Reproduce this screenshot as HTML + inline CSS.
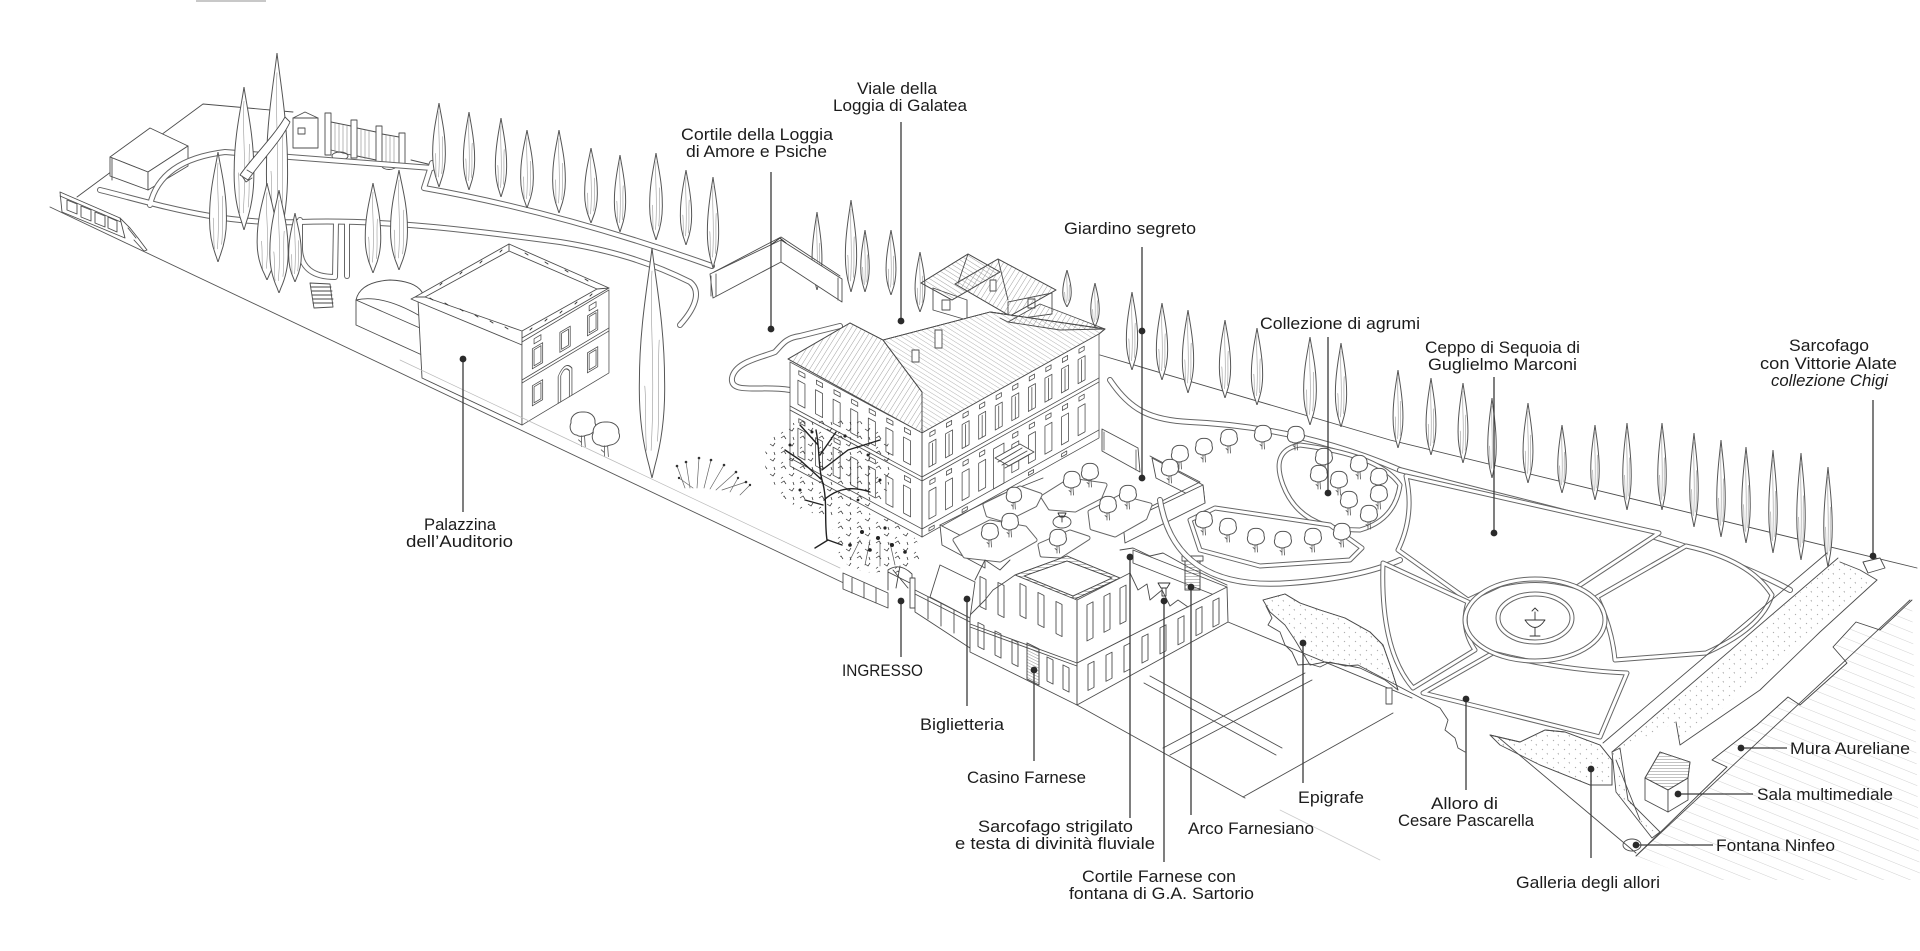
<!DOCTYPE html>
<html><head><meta charset="utf-8">
<style>
html,body{margin:0;padding:0;background:#fff;width:1920px;height:951px;overflow:hidden}
svg{display:block}
.t{font-family:"Liberation Sans Narrow","Liberation Sans",sans-serif;font-size:17px;fill:#1c1c1c}
</style></head><body>
<svg width="1920" height="951" viewBox="0 0 1920 951" xmlns="http://www.w3.org/2000/svg">
<defs>
<symbol id="cy" viewBox="0 0 20 100" preserveAspectRatio="none">
<path d="M10,0 C12,14 17,34 17,58 C17.5,76 14,88 11.5,95 L10,100 L8.5,95 C6,88 2.5,76 3,58 C3,34 8,14 10,0Z" fill="#fff" stroke="#555" stroke-width="1" vector-effect="non-scaling-stroke"/>
<path d="M10,10 C8.5,30 12,52 9.5,88 M6,60 C7,70 6,80 7,88 M14,40 C13,55 14.5,70 13,84" fill="none" stroke="#999" stroke-width="0.6" vector-effect="non-scaling-stroke"/>
</symbol>
<symbol id="tr" viewBox="0 0 20 28" preserveAspectRatio="none">
<path d="M10,1.5 C15,1 18.5,5 18,9.5 C19.5,13 17,18 12.5,18.5 C10,20 7,19.5 6,18.5 C2,18 0.5,13 2,9.5 C1.5,5 5,1 10,1.5Z" fill="#fff" stroke="#555" stroke-width="1" vector-effect="non-scaling-stroke"/>
<path d="M9,19 L9,27 M11,19 L11.5,27 M9,24 L7,22" fill="none" stroke="#555" stroke-width="0.8" vector-effect="non-scaling-stroke"/>
</symbol>
<pattern id="hA" width="4" height="4" patternUnits="userSpaceOnUse" patternTransform="rotate(-58)"><line x1="0" y1="0" x2="0" y2="4" stroke="#777" stroke-width="0.7"/></pattern>
<pattern id="hB" width="4.5" height="4.5" patternUnits="userSpaceOnUse" patternTransform="rotate(32)"><line x1="0" y1="0" x2="0" y2="4.5" stroke="#777" stroke-width="0.7"/></pattern>
<pattern id="hC" width="3" height="3" patternUnits="userSpaceOnUse" patternTransform="rotate(90)"><line x1="0" y1="0" x2="0" y2="3" stroke="#666" stroke-width="0.8"/></pattern>
<pattern id="hM" width="10" height="10" patternUnits="userSpaceOnUse" patternTransform="rotate(22)"><line x1="0" y1="0" x2="10" y2="0" stroke="#bdbdbd" stroke-width="0.7"/></pattern>
<pattern id="fol" width="19" height="15" patternUnits="userSpaceOnUse"><path d="M2,3 l3,-2 l2,3 M10,9 l3,2 l2,-3 M4,12 l-2,1.5 M14,2 l1,3" stroke="#333" stroke-width="0.75" fill="none"/></pattern>
<pattern id="dots" width="11" height="9" patternUnits="userSpaceOnUse"><path d="M2,2 l1,1 M7,6 l0.5,1.5" stroke="#999" stroke-width="0.8" fill="none"/></pattern>
</defs>
<rect width="1920" height="951" fill="#fff"/>
<line x1="196" y1="1" x2="266" y2="1" stroke="#c8c8c8" stroke-width="2"/>

<g fill="none" stroke="#4d4d4d" stroke-width="0.9" stroke-linejoin="round" stroke-linecap="round">

<!-- ===== TOP LEFT PLOT ===== -->
<polyline points="77,197 203,104 293,112"/>
<line x1="411" y1="160" x2="432" y2="165"/>
<polygon points="110,157 150,128 188,146 148,172" fill="#fff"/>
<polygon points="110,157 148,172 148,190 110,176" fill="#fff"/>
<polygon points="148,172 188,146 188,166 148,190" fill="#fff"/>
<line x1="112" y1="158" x2="112" y2="180"/>
<polygon points="60,192 120,218 125,238 62,212" fill="#fff"/>
<line x1="60" y1="196" x2="121" y2="222"/>
<polygon points="67,200 77,204 77,214 67,210"/>
<polygon points="81,206 91,210 91,221 81,217"/>
<polygon points="95,212 105,216 105,227 95,223"/>
<polygon points="108,217 117,221 117,232 108,228"/>
<polyline points="120,218 130,228 138,238 147,250 144,251 134,240"/>
<line x1="128" y1="228" x2="136" y2="238"/>
<polygon points="293,118 305,112 318,118 318,148 293,148" fill="#fff"/>
<line x1="293" y1="118" x2="318" y2="118"/>
<rect x="298" y="128" width="7" height="6"/>
<rect x="325" y="113" width="6" height="42" fill="#fff"/>
<rect x="351" y="120" width="6" height="38" fill="#fff"/>
<rect x="376" y="126" width="6" height="38" fill="#fff"/>
<rect x="399" y="133" width="6" height="34" fill="#fff"/>
<path d="M331,122 L351,126 M331,150 L351,155 M357,128 L376,132 M357,156 L376,160 M382,134 L399,137 M382,162 L399,165"/>
<path d="M335,123 v29 M339,124 v29 M343,125 v29 M347,126 v29 M361,129 v29 M365,130 v29 M369,130 v29 M386,135 v28 M390,136 v28 M394,136 v28" stroke="#888" stroke-width="0.6"/>
<ellipse cx="340" cy="156" rx="8" ry="4"/>
<ellipse cx="389" cy="166" rx="7" ry="3.5"/>
<g>
<path d="M100,190 C160,205 220,225 300,222 C380,219 470,230 560,242 C610,250 650,262 690,282 C700,290 698,305 680,325" stroke="#666" stroke-width="6"/>
<path d="M150,205 Q160,160 225,152 L432,168" stroke="#666" stroke-width="6"/>
<path d="M300,220 L300,250 Q302,277 335,277 L336,222" stroke="#666" stroke-width="6"/>
<path d="M347,222 L347,276" stroke="#666" stroke-width="6"/>
<path d="M432,163 L424,188 Q560,212 712,266" stroke="#666" stroke-width="6"/>
<path d="M100,190 C160,205 220,225 300,222 C380,219 470,230 560,242 C610,250 650,262 690,282 C700,290 698,305 680,325" stroke="#fff" stroke-width="4"/>
<path d="M150,205 Q160,160 225,152 L432,168" stroke="#fff" stroke-width="4"/>
<path d="M300,220 L300,250 Q302,277 335,277 L336,222" stroke="#fff" stroke-width="4"/>
<path d="M347,222 L347,276" stroke="#fff" stroke-width="4"/>
<path d="M432,163 L424,188 Q560,212 712,266" stroke="#fff" stroke-width="4"/>
</g>
<polygon points="310,283 330,284 333,307 314,308" fill="#fff"/>
<path d="M311,287 h20 M312,291 h20 M312,295 h20 M313,299 h20 M313,303 h20" stroke="#444"/>

<!-- ===== CYPRESSES ===== -->
<use href="#cy" x="262" y="53" width="30" height="197"/>
<use href="#cy" x="230" y="87" width="28" height="143"/>
<path d="M285,117 C275,135 250,160 240,175 L248,180 C262,160 282,140 290,122Z" fill="#fff"/>
<path d="M242,176 l4,6 l6,-4 M247,170 l5,3" stroke="#555"/>
<use href="#cy" x="206" y="152" width="24" height="110"/>
<use href="#cy" x="253" y="183" width="28" height="97"/>
<use href="#cy" x="266" y="190" width="26" height="103"/>
<use href="#cy" x="286" y="213" width="18" height="69"/>
<use href="#cy" x="362" y="183" width="22" height="90"/>
<use href="#cy" x="387" y="170" width="24" height="100"/>
<use href="#cy" x="430" y="103" width="18" height="84"/>
<use href="#cy" x="461" y="112" width="16" height="78"/>
<use href="#cy" x="493" y="118" width="16" height="79"/>
<use href="#cy" x="518" y="130" width="18" height="78"/>
<use href="#cy" x="550" y="130" width="18" height="83"/>
<use href="#cy" x="582" y="148" width="18" height="75"/>
<use href="#cy" x="612" y="155" width="16" height="77"/>
<use href="#cy" x="647" y="153" width="18" height="87"/>
<use href="#cy" x="678" y="170" width="16" height="75"/>
<use href="#cy" x="705" y="177" width="16" height="91"/>
<use href="#cy" x="810" y="212" width="14" height="78"/>
<use href="#cy" x="843" y="200" width="16" height="92"/>
<use href="#cy" x="859" y="230" width="12" height="62"/>
<use href="#cy" x="884" y="230" width="14" height="65"/>
<use href="#cy" x="913" y="252" width="14" height="60"/>
<use href="#cy" x="1061" y="270" width="12" height="37"/>
<use href="#cy" x="1089" y="283" width="12" height="44"/>

<!-- ===== CORTILE LOGGIA WALL ===== -->
<polygon points="710,274 781,240 781,262 713,298" fill="#fff"/>
<polygon points="781,240 842,279 842,302 781,262" fill="#fff"/>
<polyline points="714,272 781,237 840,276"/>
<path d="M711,276 v20 M716,274 v22 M838,278 v22" stroke="#555"/>
<path d="M772,244 l8,-6 l6,5" stroke="#333"/>

<!-- ===== PALAZZINA ===== -->
<path d="M356,325 L356,300 Q360,282 390,280 Q415,281 422,292 L422,355 L356,325Z" fill="#fff"/>
<path d="M356,300 Q382,294 420,316 M356,300 L420,328"/>
<polygon points="418,300 522,342 522,425 422,378" fill="#fff"/>
<polygon points="415,297 509,244 609,288 522,338 522,345 411,299" fill="#fff"/>
<polygon points="425,297 509,251 597,289 522,331" fill="#fff"/>
<path d="M415,297 L425,297 M509,244 L509,251 M609,288 L597,289 M522,338 L522,331" />
<path d="M430,298 l3,2 M445,303 l3,2 M460,309 l3,2 M475,315 l3,2 M490,321 l3,2 M505,327 l3,2 M530,330 l2,-2 M545,321 l2,-2 M560,313 l2,-2 M575,304 l2,-2 M590,296 l2,-2 M440,285 l2,-2 M460,274 l2,-2 M480,263 l2,-2 M500,252 l2,-2 M525,253 l3,2 M545,262 l3,2 M565,270 l3,2 M585,279 l3,2" stroke="#333"/>
<g transform="matrix(0.861,-0.515,0,1,522,342)">
<rect x="0" y="0" width="101" height="83" fill="#fff"/>
<line x1="0" y1="38" x2="101" y2="38"/><line x1="0" y1="41" x2="101" y2="41"/>
<rect x="12" y="13" width="12" height="20"/><rect x="14" y="15" width="8" height="16"/>
<rect x="44" y="13" width="12" height="20"/><rect x="46" y="15" width="8" height="16"/>
<rect x="76" y="13" width="12" height="20"/><rect x="78" y="15" width="8" height="16"/>
<rect x="14" y="4" width="8" height="5"/><rect x="78" y="4" width="8" height="5"/>
<rect x="12" y="50" width="12" height="20"/><rect x="14" y="52" width="8" height="16"/>
<path d="M42,83 L42,56 Q50,44 58,56 L58,83 M45,83 L45,57 Q50,49 55,57 L55,83"/>
<rect x="76" y="50" width="12" height="20"/><rect x="78" y="52" width="8" height="16"/>
</g>
<use href="#tr" x="568" y="410" width="30" height="38"/>
<use href="#tr" x="590" y="420" width="32" height="38"/>
<use href="#cy" x="634" y="248" width="36" height="230"/>

<!-- ===== VILLA PATHS ===== -->
<g>
<path d="M790,390 C760,385 730,395 732,378 C735,362 760,358 775,352 C782,345 785,338 800,336 L840,326" stroke="#666" stroke-width="6"/>
<path d="M790,390 C760,385 730,395 732,378 C735,362 760,358 775,352 C782,345 785,338 800,336 L840,326" stroke="#fff" stroke-width="4"/>
<path d="M1110,380 C1130,410 1150,420 1190,422 C1260,425 1330,440 1400,470" stroke="#666" stroke-width="6"/>
<path d="M1110,380 C1130,410 1150,420 1190,422 C1260,425 1330,440 1400,470" stroke="#fff" stroke-width="4"/>
</g>

<!-- ===== VILLA ===== -->
<polygon points="933,288 967,300 967,320 933,310" fill="#fff"/>
<polygon points="1008,302 1052,293 1052,314 1008,320" fill="#fff"/>
<polygon points="921,283 968,254 1000,272 952,300" fill="url(#hA)"/>
<polygon points="921,283 968,254 1000,272 952,300"/>
<polygon points="955,284 998,259 1056,290 1010,316" fill="url(#hB)"/>
<polygon points="955,284 998,259 1056,290 1010,316"/>
<line x1="968" y1="254" x2="958" y2="283"/><line x1="998" y1="259" x2="1008" y2="300"/>
<rect x="942" y="300" width="8" height="10"/><rect x="1028" y="299" width="7" height="9"/>
<rect x="990" y="280" width="6" height="11" fill="#fff"/>
<polygon points="788,359 850,323 883,340 922,392 922,433" fill="#fff"/>
<polygon points="788,359 850,323 883,340 922,392 922,433" fill="url(#hB)"/>
<polygon points="922,433 1099,334 1105,329 990,312 883,340 922,392" fill="#fff"/>
<polygon points="922,433 1099,334 1105,329 990,312 883,340 922,392" fill="url(#hA)" fill-opacity="0.8"/>
<polygon points="1008,322 1040,304 1105,329 1060,330" fill="url(#hB)"/>
<path d="M883,340 L990,312 L1105,329 M922,392 L922,433 M850,323 L883,340 M1000,318 L1008,322"/>
<rect x="935" y="330" width="7" height="18" fill="#fff"/>
<rect x="912" y="350" width="7" height="12" fill="#fff"/>
<g transform="matrix(0.872,-0.488,0,1,922,433)">
<rect x="0" y="0" width="203" height="104" fill="#fff"/>
<line x1="0" y1="44" x2="203" y2="44"/><line x1="0" y1="48" x2="203" y2="48"/><line x1="0" y1="96" x2="203" y2="96"/>
<rect x="9" y="4" width="6" height="4"/><rect x="28" y="4" width="6" height="4"/><rect x="47" y="4" width="6" height="4"/><rect x="66" y="4" width="6" height="4"/><rect x="85" y="4" width="6" height="4"/><rect x="104" y="4" width="6" height="4"/><rect x="123" y="4" width="6" height="4"/><rect x="142" y="4" width="6" height="4"/><rect x="161" y="4" width="6" height="4"/><rect x="180" y="4" width="6" height="4"/>
<rect x="8" y="14" width="8" height="24"/><rect x="27" y="14" width="8" height="24"/><rect x="46" y="14" width="8" height="24"/><rect x="65" y="14" width="8" height="24"/><rect x="84" y="14" width="8" height="24"/><rect x="103" y="14" width="8" height="24"/><rect x="122" y="14" width="8" height="24"/><rect x="141" y="14" width="8" height="24"/><rect x="160" y="14" width="8" height="24"/><rect x="179" y="14" width="8" height="24"/>
<path d="M12,16 v22 M31,16 v22 M50,16 v22 M69,16 v22 M88,16 v22 M107,16 v22 M126,16 v22 M145,16 v22 M164,16 v22 M183,16 v22"/>
<rect x="9" y="52" width="6" height="4"/><rect x="28" y="52" width="6" height="4"/><rect x="47" y="52" width="6" height="4"/><rect x="66" y="52" width="6" height="4"/><rect x="104" y="52" width="6" height="4"/><rect x="123" y="52" width="6" height="4"/><rect x="142" y="52" width="6" height="4"/><rect x="161" y="52" width="6" height="4"/><rect x="180" y="52" width="6" height="4"/>
<rect x="8" y="62" width="8" height="28"/><rect x="27" y="62" width="8" height="28"/><rect x="46" y="62" width="8" height="28"/><rect x="65" y="62" width="8" height="28"/><rect x="103" y="62" width="8" height="28"/><rect x="122" y="62" width="8" height="28"/><rect x="141" y="62" width="8" height="28"/><rect x="160" y="62" width="8" height="28"/><rect x="179" y="62" width="8" height="28"/>
<rect x="82" y="56" width="12" height="40"/>
<rect x="8" y="99" width="6" height="3"/><rect x="46" y="99" width="6" height="3"/><rect x="122" y="99" width="6" height="3"/><rect x="160" y="99" width="6" height="3"/>
</g>
<polygon points="995,458 1020,444 1034,452 1009,466" fill="#fff"/>
<path d="M998,462 l24,-14 M1002,465 l25,-14 M1005,468 l25,-14"/>
<g transform="matrix(0.88,0.473,0,1,790,362)">
<rect x="0" y="0" width="150" height="104" fill="#fff"/>
<line x1="0" y1="44" x2="150" y2="44"/><line x1="0" y1="48" x2="150" y2="48"/><line x1="0" y1="96" x2="150" y2="96"/>
<rect x="10" y="4" width="7" height="4"/><rect x="30" y="4" width="7" height="4"/><rect x="50" y="4" width="7" height="4"/><rect x="70" y="4" width="7" height="4"/><rect x="90" y="4" width="7" height="4"/><rect x="110" y="4" width="7" height="4"/><rect x="130" y="4" width="7" height="4"/>
<rect x="9" y="14" width="8" height="24"/><rect x="29" y="14" width="8" height="24"/><rect x="49" y="14" width="8" height="24"/><rect x="69" y="14" width="8" height="24"/><rect x="89" y="14" width="8" height="24"/><rect x="109" y="14" width="8" height="24"/><rect x="129" y="14" width="8" height="24"/>
<rect x="10" y="52" width="7" height="4"/><rect x="50" y="52" width="7" height="4"/><rect x="90" y="52" width="7" height="4"/><rect x="130" y="52" width="7" height="4"/>
<rect x="9" y="62" width="8" height="28"/><rect x="29" y="62" width="8" height="28"/><rect x="49" y="62" width="8" height="28"/><rect x="69" y="62" width="8" height="28"/><rect x="89" y="62" width="8" height="28"/><rect x="109" y="62" width="8" height="28"/><rect x="129" y="62" width="8" height="28"/>
</g>
<line x1="922" y1="433" x2="922" y2="537"/>

<!-- ===== GIARDINO SEGRETO / COURTS ===== -->
<polygon points="1102,429 1138,448 1140,472 1102,451" fill="#fff"/>
<path d="M1104,432 l0,18 M1136,450 l0,20" stroke="#666"/>
<polygon points="940,525 985,548 985,568 942,545" fill="#fff"/>
<polyline points="940,525 1000,495 1043,478"/>
<polygon points="1152,458 1203,485 1205,503 1156,478" fill="#fff"/>
<polygon points="1203,485 1123,523 1125,543 1205,503" fill="#fff"/>
<polyline points="1150,456 1200,482 1122,521"/>
<g>
<path d="M1043,497 L1070,480 L1105,485 L1100,497 L1075,510 L1050,508Z" stroke="#666" stroke-width="5"/>
<path d="M1043,497 L1070,480 L1105,485 L1100,497 L1075,510 L1050,508Z" stroke="#fff" stroke-width="3" fill="#fff"/>
<path d="M1090,512 L1120,497 L1150,505 L1145,518 L1115,535 L1092,528Z" stroke="#666" stroke-width="5"/>
<path d="M1090,512 L1120,497 L1150,505 L1145,518 L1115,535 L1092,528Z" stroke="#fff" stroke-width="3" fill="#fff"/>
<path d="M1040,545 L1070,532 L1088,538 L1060,556 L1042,555Z" stroke="#666" stroke-width="5"/>
<path d="M1040,545 L1070,532 L1088,538 L1060,556 L1042,555Z" stroke="#fff" stroke-width="3" fill="#fff"/>
<path d="M955,540 L990,522 L1025,528 L1035,540 L1000,560 L965,556Z" stroke="#666" stroke-width="5"/>
<path d="M955,540 L990,522 L1025,528 L1035,540 L1000,560 L965,556Z" stroke="#fff" stroke-width="3" fill="#fff"/>
<path d="M985,505 L1020,488 L1040,495 L1035,505 L1005,520 L988,515Z" stroke="#666" stroke-width="5"/>
<path d="M985,505 L1020,488 L1040,495 L1035,505 L1005,520 L988,515Z" stroke="#fff" stroke-width="3" fill="#fff"/>
</g>
<use href="#tr" x="1062" y="470" width="20" height="26"/>
<use href="#tr" x="1080" y="462" width="20" height="26"/>
<use href="#tr" x="1098" y="495" width="20" height="26"/>
<use href="#tr" x="1118" y="484" width="20" height="26"/>
<use href="#tr" x="1048" y="528" width="20" height="26"/>
<use href="#tr" x="980" y="522" width="20" height="26"/>
<use href="#tr" x="1000" y="512" width="20" height="26"/>
<use href="#tr" x="1005" y="486" width="18" height="24"/>
<ellipse cx="1062" cy="522" rx="9" ry="6"/>
<path d="M1058,513 h8 l-2,4 h-4z M1062,517 v5" stroke="#333"/>

<!-- ===== TREES / BUSHES LEFT OF VILLA ===== -->
<path d="M685,488 l-8,-22 M690,488 l-4,-26 M697,488 l2,-30 M704,488 l7,-28 M710,489 l14,-24 M716,490 l20,-18 M722,490 l24,-8 M693,488 l-14,-10 M730,492 l8,-14 M740,495 l10,-10" stroke="#666" stroke-width="0.7"/>
<g fill="#333" stroke="none">
<circle cx="677" cy="466" r="1.3"/><circle cx="686" cy="462" r="1.3"/><circle cx="699" cy="458" r="1.3"/><circle cx="711" cy="460" r="1.3"/><circle cx="724" cy="465" r="1.3"/><circle cx="736" cy="472" r="1.3"/><circle cx="746" cy="482" r="1.3"/><circle cx="679" cy="478" r="1.2"/><circle cx="738" cy="478" r="1.2"/><circle cx="750" cy="485" r="1.2"/>
</g>
<path d="M770,440 C780,420 820,415 850,420 C880,422 895,440 890,470 C892,500 870,515 840,515 C810,518 785,505 775,485 C762,470 762,455 770,440Z" fill="url(#fol)" stroke="none"/>
<path d="M827,540 C824,520 828,500 822,480 C818,465 820,450 816,430 M822,480 L800,460 L785,450 M822,470 L848,450 L880,440 M820,455 L836,432 M818,445 L800,425 M824,500 C835,490 850,485 870,492 M828,540 L815,548 M828,540 L842,545 M823,505 L805,500" stroke="#222" stroke-width="1.4"/>
<path d="M835,520 C845,510 870,510 890,520 C905,525 922,540 920,555 C918,570 900,575 880,572 C860,575 840,565 838,550 C832,540 830,530 835,520Z" fill="url(#fol)" stroke="none"/>
<path d="M850,560 l10,-20 M865,565 l5,-25 M880,566 l0,-24 M895,565 l-5,-22" stroke="#555" stroke-width="0.7"/>
<g fill="#222" stroke="none">
<circle cx="790" cy="445" r="1.5"/><circle cx="812" cy="432" r="1.5"/><circle cx="845" cy="436" r="1.6"/><circle cx="868" cy="455" r="1.5"/><circle cx="880" cy="480" r="1.5"/><circle cx="800" cy="490" r="1.5"/><circle cx="858" cy="500" r="1.4"/>
<circle cx="862" cy="532" r="2"/><circle cx="878" cy="538" r="2"/><circle cx="892" cy="545" r="2"/><circle cx="870" cy="550" r="1.8"/><circle cx="905" cy="552" r="1.8"/><circle cx="850" cy="545" r="1.8"/><circle cx="885" cy="528" r="1.6"/>
</g>

<!-- ===== FRONT BOUNDARY ===== -->
<line x1="50" y1="207" x2="888" y2="604" stroke="#555"/>
<line x1="400" y1="360" x2="840" y2="568" stroke="#bbb" stroke-width="0.7"/>
<polygon points="843,573 888,593 888,608 843,589" fill="#fff"/>
<path d="M852,578 v15 M864,583 v15 M876,588 v15"/>
<path d="M888,590 L888,570 Q900,562 912,574 L912,600 M888,572 L912,584 M893,570 L908,588 M900,566 L896,588" stroke="#444"/>
<rect x="910" y="578" width="5" height="30" fill="#fff"/>
<polygon points="915,590 970,618 970,648 915,612" fill="#fff"/>
<path d="M928,597 v22 M941,603 v23 M954,610 v23 M915,594 L970,622"/>

<!-- ===== CASINO FARNESE ===== -->
<polygon points="1133,550 1227,587 1227,600 1133,563" fill="#fff"/>
<polyline points="1120,550 1133,548 1150,556 1163,553 1190,568 1227,585"/>
<rect x="1185" y="560" width="15" height="30" fill="url(#hC)"/>
<rect x="1185" y="560" width="15" height="30"/>
<rect x="1182" y="556" width="21" height="5" fill="#fff"/>
<path d="M1158,583 h12 l-3,5 h-6z M1162,588 v8 h4 v-8" stroke="#333"/>
<polygon points="1015,575 1067,556 1120,578 1073,600" fill="#fff"/>
<polygon points="1015,575 1067,556 1120,578 1073,600 1073,596 1112,578 1067,561 1024,576 1073,596 1073,600" fill="url(#hC)"/>
<polygon points="1024,576 1067,561 1112,578 1073,596"/>
<polygon points="970,652 1077,705 1077,600 1015,575 1005,582 993,590 985,600 970,615" fill="#fff"/>
<line x1="970" y1="624" x2="1077" y2="663"/><line x1="970" y1="627" x2="1077" y2="666"/>
<g transform="matrix(1,0.5,0,1,0,-538.5)">
<rect x="978" y="672" width="6" height="24"/><rect x="995" y="672" width="6" height="24"/><rect x="1012" y="672" width="6" height="24"/>
<rect x="1027" y="668" width="12" height="36" fill="url(#hC)"/><rect x="1027" y="668" width="12" height="36"/>
<rect x="1047" y="672" width="6" height="24"/><rect x="1063" y="672" width="6" height="24"/>
<rect x="1020" y="612" width="6" height="32"/><rect x="1038" y="612" width="6" height="32"/><rect x="1056" y="612" width="6" height="32"/>
<rect x="980" y="625" width="6" height="30"/><rect x="998" y="622" width="6" height="32"/>
</g>
<polygon points="1077,663 1227,587 1228,622 1077,705" fill="#fff"/>
<polygon points="1077,600 1130,573 1130,636 1077,663" fill="#fff"/>
<polyline points="1130,573 1138,590 1147,584 1150,600 1162,590 1170,606 1178,600 1188,607"/>
<g transform="matrix(1,-0.507,0,1,0,546)">
<rect x="1088" y="670" width="6" height="26"/><rect x="1106" y="670" width="6" height="26"/><rect x="1124" y="670" width="6" height="26"/><rect x="1142" y="670" width="6" height="26"/><rect x="1160" y="670" width="6" height="26"/><rect x="1178" y="670" width="6" height="26"/><rect x="1196" y="670" width="6" height="26"/><rect x="1213" y="670" width="6" height="26"/>
<rect x="1087" y="610" width="6" height="36"/><rect x="1104" y="610" width="6" height="36"/><rect x="1120" y="610" width="6" height="36"/>
</g>
<line x1="1077" y1="600" x2="1077" y2="705"/>
<polygon points="930,597 940,565 975,582 970,618" fill="#fff"/>
<polyline points="975,580 985,560 1000,570 1010,560"/>

<!-- ===== GROUND LINES SOUTH ===== -->
<line x1="1077" y1="705" x2="1245" y2="798"/>
<line x1="1243" y1="797" x2="1393" y2="713"/>
<line x1="1228" y1="622" x2="1412" y2="698"/>
<line x1="1150" y1="676" x2="1282" y2="748"/>
<line x1="1144" y1="683" x2="1276" y2="755"/>
<line x1="1163" y1="748" x2="1305" y2="673"/>
<line x1="1170" y1="755" x2="1312" y2="680"/>
<line x1="1498" y1="737" x2="1636" y2="853"/>
<line x1="1280" y1="810" x2="1380" y2="860" stroke="#ccc" stroke-width="0.7"/>

<!-- ===== EPIGRAFE HEDGE & GARDEN WALL ===== -->
<polygon points="1263,600 1285,594 1300,603 1320,610 1345,618 1370,632 1383,645 1390,665 1398,690 1385,680 1360,668 1345,665 1325,662 1310,665 1295,640 1285,625 1270,612" fill="url(#dots)"/>
<polyline points="1263,600 1285,594 1300,603 1320,610 1345,618 1370,632 1383,645 1390,665 1398,690"/>
<polyline points="1266,606 1272,618 1268,625 1280,632 1285,645 1292,652 1298,665 1310,664 1320,667 1330,662 1345,666 1358,665"/>
<polyline points="1358,665 1440,708 1448,720 1445,730 1455,738 1458,748 1465,752"/>
<rect x="1386" y="688" width="6" height="16" fill="#fff"/>

<!-- ===== RIGHT GARDEN ===== -->
<polyline points="1100,355 1390,440 1917,568"/>
<use href="#cy" x="1124" y="292" width="16" height="78"/>
<use href="#cy" x="1154" y="303" width="16" height="77"/>
<use href="#cy" x="1180" y="310" width="16" height="83"/>
<use href="#cy" x="1217" y="320" width="16" height="78"/>
<use href="#cy" x="1249" y="328" width="16" height="77"/>
<use href="#cy" x="1301" y="337" width="18" height="88"/>
<use href="#cy" x="1333" y="343" width="16" height="84"/>
<use href="#cy" x="1391" y="370" width="14" height="78"/>
<use href="#cy" x="1424" y="378" width="14" height="77"/>
<use href="#cy" x="1456" y="383" width="14" height="80"/>
<use href="#cy" x="1486" y="398" width="12" height="80"/>
<use href="#cy" x="1521" y="403" width="14" height="80"/>
<use href="#cy" x="1556" y="425" width="12" height="68"/>
<use href="#cy" x="1589" y="425" width="12" height="75"/>
<use href="#cy" x="1621" y="423" width="12" height="87"/>
<use href="#cy" x="1656" y="423" width="12" height="87"/>
<use href="#cy" x="1688" y="433" width="12" height="94"/>
<use href="#cy" x="1715" y="440" width="12" height="97"/>
<use href="#cy" x="1740" y="447" width="12" height="96"/>
<use href="#cy" x="1767" y="450" width="12" height="103"/>
<use href="#cy" x="1795" y="453" width="12" height="107"/>
<use href="#cy" x="1822" y="467" width="12" height="100"/>
<g>
<path d="M1160,500 Q1175,592 1290,583 Q1360,578 1400,560" stroke="#666" stroke-width="6"/>
<path d="M1160,500 Q1175,592 1290,583 Q1360,578 1400,560" stroke="#fff" stroke-width="4"/>
<path d="M1283,485 Q1270,450 1300,445 Q1380,455 1400,485 Q1395,520 1360,530 Q1300,530 1283,485Z" stroke="#666" stroke-width="5"/>
<path d="M1283,485 Q1270,450 1300,445 Q1380,455 1400,485 Q1395,520 1360,530 Q1300,530 1283,485Z" stroke="#fff" stroke-width="3"/>
<path d="M1400,470 C1550,510 1700,540 1790,590" stroke="#666" stroke-width="6"/>
<path d="M1400,470 C1550,510 1700,540 1790,590" stroke="#fff" stroke-width="4"/>
<path d="M1190,520 L1215,508 L1330,525 L1362,548 L1350,560 L1260,566 L1200,550Z" stroke="#666" stroke-width="5" fill="#fff"/>
<path d="M1190,520 L1215,508 L1330,525 L1362,548 L1350,560 L1260,566 L1200,550Z" stroke="#fff" stroke-width="3"/>
<path d="M1406,476 L1659,533 L1577,587 Q1540,575 1500,585 L1468,600 L1398,550 Q1415,515 1406,476Z" stroke="#666" stroke-width="5" fill="#fff"/>
<path d="M1406,476 L1659,533 L1577,587 Q1540,575 1500,585 L1468,600 L1398,550 Q1415,515 1406,476Z" stroke="#fff" stroke-width="3"/>
<path d="M1597,597 L1686,546 Q1750,560 1772,595 Q1762,628 1706,653 L1615,660 Q1612,628 1597,597Z" stroke="#666" stroke-width="5" fill="#fff"/>
<path d="M1597,597 L1686,546 Q1750,560 1772,595 Q1762,628 1706,653 L1615,660 Q1612,628 1597,597Z" stroke="#fff" stroke-width="3"/>
<path d="M1493,653 Q1560,670 1627,673 L1600,737 L1500,712 L1423,693Z" stroke="#666" stroke-width="5" fill="#fff"/>
<path d="M1493,653 Q1560,670 1627,673 L1600,737 L1500,712 L1423,693Z" stroke="#fff" stroke-width="3"/>
<path d="M1383,563 L1468,602 Q1460,628 1475,650 L1413,688 Q1380,650 1383,563Z" stroke="#666" stroke-width="5" fill="#fff"/>
<path d="M1383,563 L1468,602 Q1460,628 1475,650 L1413,688 Q1380,650 1383,563Z" stroke="#fff" stroke-width="3"/>
<ellipse cx="1535" cy="620" rx="70" ry="41" stroke="#666" stroke-width="5"/>
<ellipse cx="1535" cy="620" rx="70" ry="41" stroke="#fff" stroke-width="3"/>
<ellipse cx="1535" cy="618" rx="37" ry="24" stroke="#666" stroke-width="5"/>
<ellipse cx="1535" cy="618" rx="37" ry="24" stroke="#fff" stroke-width="3"/>
</g>
<path d="M1525,620 Q1535,635 1545,620 Z M1535,628 v8 M1530,636 h10 M1535,620 v-8 M1532,611 l3,-3 l3,3" stroke="#333"/>
<use href="#tr" x="1170" y="444" width="20" height="26"/>
<use href="#tr" x="1194" y="437" width="20" height="26"/>
<use href="#tr" x="1219" y="428" width="20" height="26"/>
<use href="#tr" x="1253" y="424" width="20" height="26"/>
<use href="#tr" x="1286" y="425" width="20" height="26"/>
<use href="#tr" x="1314" y="447" width="20" height="26"/>
<use href="#tr" x="1349" y="454" width="20" height="26"/>
<use href="#tr" x="1309" y="464" width="20" height="26"/>
<use href="#tr" x="1329" y="470" width="20" height="26"/>
<use href="#tr" x="1369" y="467" width="20" height="26"/>
<use href="#tr" x="1339" y="490" width="20" height="26"/>
<use href="#tr" x="1369" y="484" width="20" height="26"/>
<use href="#tr" x="1359" y="504" width="20" height="26"/>
<use href="#tr" x="1194" y="510" width="20" height="26"/>
<use href="#tr" x="1218" y="517" width="20" height="26"/>
<use href="#tr" x="1246" y="527" width="20" height="26"/>
<use href="#tr" x="1273" y="530" width="20" height="26"/>
<use href="#tr" x="1303" y="527" width="20" height="26"/>
<use href="#tr" x="1332" y="522" width="20" height="26"/>
<use href="#tr" x="1160" y="458" width="20" height="26"/>

<!-- ===== RIGHT WALL / GALLERIA ===== -->
<polygon points="1912,600 1880,630 1856,622 1833,647 1847,663 1800,705 1788,697 1757,725 1712,760 1727,767 1636,856 1700,880 1920,880" fill="url(#hM)" stroke="none"/>
<polyline points="1912,600 1880,630 1856,622 1833,647 1847,663 1800,705 1788,697 1757,725 1712,760 1727,767 1636,856" stroke="#444"/>
<line x1="1827" y1="553" x2="1603" y2="743"/>
<line x1="1838" y1="558" x2="1612" y2="752"/>
<line x1="1910" y1="600" x2="1636" y2="856"/>
<polygon points="1838,560 1877,582 1679,744 1677,722 1612,752" fill="url(#dots)" stroke="none"/>
<polyline points="1840,562 1860,570 1877,580"/>
<polyline points="1877,580 1820,632 1760,690 1680,745 1676,722"/>
<polygon points="1612,752 1620,748 1628,800 1660,832 1652,838 1616,792" fill="url(#dots)"/>
<line x1="1616" y1="760" x2="1640" y2="820"/>
<polygon points="1490,735 1520,742 1545,730 1565,732 1600,745 1612,760 1612,785 1590,785 1540,765 1500,745" fill="url(#dots)"/>
<polyline points="1490,735 1520,742 1545,730 1565,732 1600,745 1612,760 1612,785 1590,785 1540,765"/>
<polygon points="1645,778 1668,790 1668,812 1645,800" fill="#fff"/>
<polygon points="1668,790 1688,778 1688,800 1668,812" fill="#fff"/>
<polygon points="1645,778 1660,752 1690,762 1688,778 1668,790" fill="url(#hC)"/>
<polyline points="1645,778 1660,752 1690,762 1688,778"/>
<ellipse cx="1632" cy="845" rx="9" ry="6"/>
<polygon points="1863,562 1880,558 1885,568 1868,573" fill="#fff"/>
<line x1="1863" y1="562" x2="1868" y2="573"/>
</g>

<!-- ===== LEADER LINES ===== -->
<g stroke="#3a3a3a" stroke-width="1.3" fill="none">
<line x1="901" y1="122" x2="901" y2="321"/>
<line x1="771" y1="172" x2="771" y2="329"/>
<line x1="1142" y1="247" x2="1142" y2="478"/>
<line x1="1328" y1="337" x2="1328" y2="493"/>
<line x1="1494" y1="377" x2="1494" y2="533"/>
<line x1="1873" y1="400" x2="1873" y2="556"/>
<line x1="463" y1="359" x2="463" y2="512"/>
<line x1="901" y1="601" x2="901" y2="657"/>
<line x1="967" y1="599" x2="967" y2="706"/>
<line x1="1034" y1="670" x2="1034" y2="761"/>
<line x1="1130" y1="557" x2="1130" y2="818"/>
<line x1="1164" y1="601" x2="1164" y2="862"/>
<line x1="1191" y1="587" x2="1191" y2="815"/>
<line x1="1303" y1="643" x2="1303" y2="783"/>
<line x1="1466" y1="699" x2="1466" y2="790"/>
<line x1="1591" y1="769" x2="1591" y2="858"/>
<line x1="1741" y1="748" x2="1787" y2="748"/>
<line x1="1678" y1="794" x2="1753" y2="794"/>
<line x1="1636" y1="845" x2="1713" y2="845"/>
</g>
<g fill="#2a2a2a">
<circle cx="901" cy="321" r="3.4"/><circle cx="771" cy="329" r="3.4"/><circle cx="1142" cy="331" r="3.4"/><circle cx="1142" cy="478" r="3.4"/>
<circle cx="1328" cy="493" r="3.4"/><circle cx="1494" cy="533" r="3.4"/><circle cx="1873" cy="556" r="3.4"/><circle cx="463" cy="359" r="3.4"/>
<circle cx="901" cy="601" r="3.4"/><circle cx="967" cy="599" r="3.4"/><circle cx="1034" cy="670" r="3.4"/><circle cx="1130" cy="557" r="3.4"/>
<circle cx="1164" cy="601" r="3.4"/><circle cx="1191" cy="587" r="3.4"/><circle cx="1303" cy="643" r="3.4"/><circle cx="1466" cy="699" r="3.4"/>
<circle cx="1591" cy="769" r="3.4"/><circle cx="1741" cy="748" r="3.4"/><circle cx="1678" cy="794" r="3.4"/><circle cx="1636" cy="845" r="3.4"/>
</g>

<!-- ===== LABELS ===== -->
<g class="t">
<text class="t" x="857" y="94" textLength="80" lengthAdjust="spacingAndGlyphs">Viale della</text>
<text class="t" x="833" y="111" textLength="134" lengthAdjust="spacingAndGlyphs">Loggia di Galatea</text>
<text class="t" x="681" y="140" textLength="152" lengthAdjust="spacingAndGlyphs">Cortile della Loggia</text>
<text class="t" x="686" y="157" textLength="141" lengthAdjust="spacingAndGlyphs">di Amore e Psiche</text>
<text class="t" x="1064" y="234" textLength="132" lengthAdjust="spacingAndGlyphs">Giardino segreto</text>
<text class="t" x="1260" y="329" textLength="160" lengthAdjust="spacingAndGlyphs">Collezione di agrumi</text>
<text class="t" x="1425" y="353" textLength="155" lengthAdjust="spacingAndGlyphs">Ceppo di Sequoia di</text>
<text class="t" x="1428" y="370" textLength="149" lengthAdjust="spacingAndGlyphs">Guglielmo Marconi</text>
<text class="t" x="1789" y="351" textLength="80" lengthAdjust="spacingAndGlyphs">Sarcofago</text>
<text class="t" x="1760" y="369" textLength="137" lengthAdjust="spacingAndGlyphs">con Vittorie Alate</text>
<text class="t" x="1771" y="386" textLength="117" lengthAdjust="spacingAndGlyphs" font-style="italic">collezione Chigi</text>
<text class="t" x="424" y="530" textLength="72" lengthAdjust="spacingAndGlyphs">Palazzina</text>
<text class="t" x="406" y="547" textLength="107" lengthAdjust="spacingAndGlyphs">dell’Auditorio</text>
<text class="t" x="842" y="676" textLength="81" lengthAdjust="spacingAndGlyphs">INGRESSO</text>
<text class="t" x="920" y="730" textLength="84" lengthAdjust="spacingAndGlyphs">Biglietteria</text>
<text class="t" x="967" y="783" textLength="119" lengthAdjust="spacingAndGlyphs">Casino Farnese</text>
<text class="t" x="978" y="832" textLength="155" lengthAdjust="spacingAndGlyphs">Sarcofago strigilato</text>
<text class="t" x="955" y="849" textLength="200" lengthAdjust="spacingAndGlyphs">e testa di divinità fluviale</text>
<text class="t" x="1082" y="882" textLength="154" lengthAdjust="spacingAndGlyphs">Cortile Farnese con</text>
<text class="t" x="1069" y="899" textLength="185" lengthAdjust="spacingAndGlyphs">fontana di G.A. Sartorio</text>
<text class="t" x="1188" y="834" textLength="126" lengthAdjust="spacingAndGlyphs">Arco Farnesiano</text>
<text class="t" x="1298" y="803" textLength="66" lengthAdjust="spacingAndGlyphs">Epigrafe</text>
<text class="t" x="1431" y="809" textLength="67" lengthAdjust="spacingAndGlyphs">Alloro di</text>
<text class="t" x="1398" y="826" textLength="136" lengthAdjust="spacingAndGlyphs">Cesare Pascarella</text>
<text class="t" x="1516" y="888" textLength="144" lengthAdjust="spacingAndGlyphs">Galleria degli allori</text>
<text class="t" x="1790" y="754" textLength="120" lengthAdjust="spacingAndGlyphs">Mura Aureliane</text>
<text class="t" x="1757" y="800" textLength="136" lengthAdjust="spacingAndGlyphs">Sala multimediale</text>
<text class="t" x="1716" y="851" textLength="119" lengthAdjust="spacingAndGlyphs">Fontana Ninfeo</text>
</g>
</svg>
</body></html>
